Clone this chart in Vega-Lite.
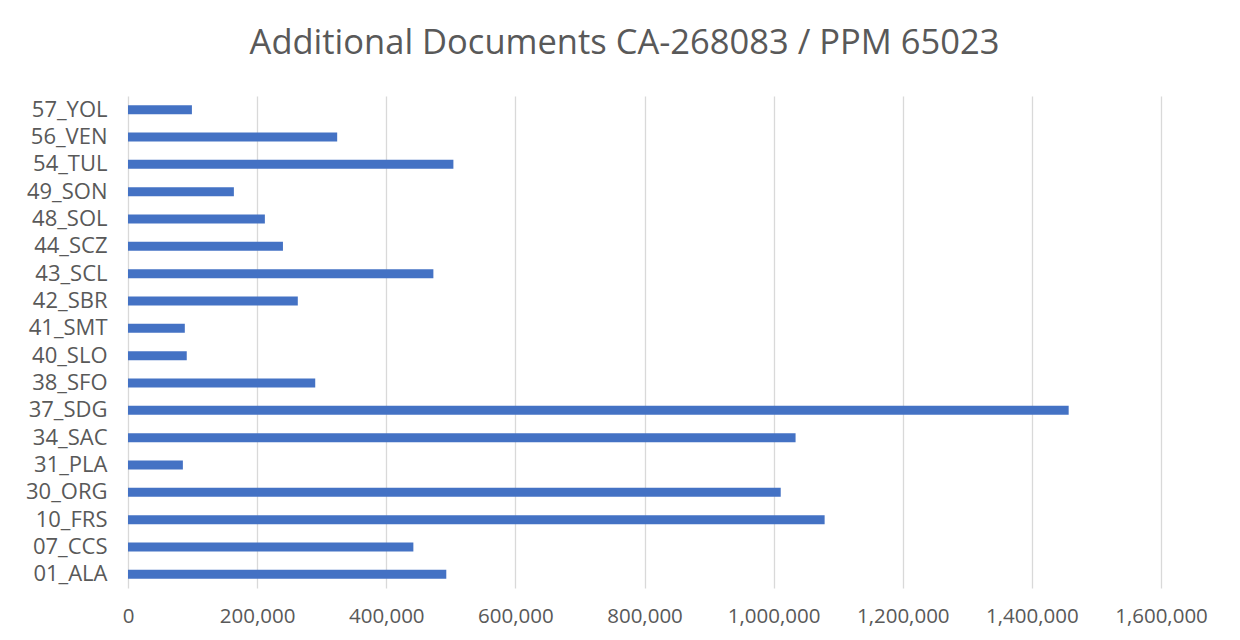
{
  "$schema": "https://vega.github.io/schema/vega-lite/v6.json",
  "autosize": "none",
  "width": 1033,
  "height": 492,
  "padding": {"left": 128, "top": 96, "right": 79, "bottom": 52},
  "background": "#ffffff",
  "title": {
    "text": "Additional Documents CA-268083 / PPM 65023",
    "font": "Open Sans",
    "fontSize": 34.5,
    "fontWeight": "normal",
    "color": "#595959",
    "anchor": "middle",
    "baseline": "alphabetic",
    "offset": 38,
    "dx": -20,
    "dy": 30
  },
  "data": {
    "values": [
      {"county": "57_YOL", "amount": 99000},
      {"county": "56_VEN", "amount": 324000},
      {"county": "54_TUL", "amount": 504000},
      {"county": "49_SON", "amount": 164000},
      {"county": "48_SOL", "amount": 212000},
      {"county": "44_SCZ", "amount": 240000},
      {"county": "43_SCL", "amount": 473000},
      {"county": "42_SBR", "amount": 263000},
      {"county": "41_SMT", "amount": 88000},
      {"county": "40_SLO", "amount": 91000},
      {"county": "38_SFO", "amount": 290000},
      {"county": "37_SDG", "amount": 1457000},
      {"county": "34_SAC", "amount": 1034000},
      {"county": "31_PLA", "amount": 85000},
      {"county": "30_ORG", "amount": 1011000},
      {"county": "10_FRS", "amount": 1079000},
      {"county": "07_CCS", "amount": 442000},
      {"county": "01_ALA", "amount": 493000}
    ]
  },
  "mark": {"type": "bar", "color": "#4472C4"},
  "encoding": {
    "y": {
      "field": "county",
      "type": "nominal",
      "sort": "descending",
      "scale": {"paddingInner": 0.67, "paddingOuter": 0.335},
      "axis": {
        "title": null,
        "domain": false,
        "ticks": false,
        "grid": false,
        "labelPadding": 21,
        "labelFont": "Open Sans",
        "labelFontSize": 22,
        "labelColor": "#595959"
      }
    },
    "x": {
      "field": "amount",
      "type": "quantitative",
      "scale": {"domain": [0, 1600000], "nice": false},
      "axis": {
        "title": null,
        "values": [0, 200000, 400000, 600000, 800000, 1000000, 1200000, 1400000, 1600000],
        "format": ",d",
        "domain": false,
        "ticks": false,
        "grid": true,
        "gridColor": "#d9d9d9",
        "gridWidth": 1.3,
        "labelPadding": 18,
        "labelFont": "Open Sans",
        "labelFontSize": 20.5,
        "labelColor": "#595959",
        "labelFlush": false
      }
    }
  },
  "config": {"view": {"stroke": null}}
}
